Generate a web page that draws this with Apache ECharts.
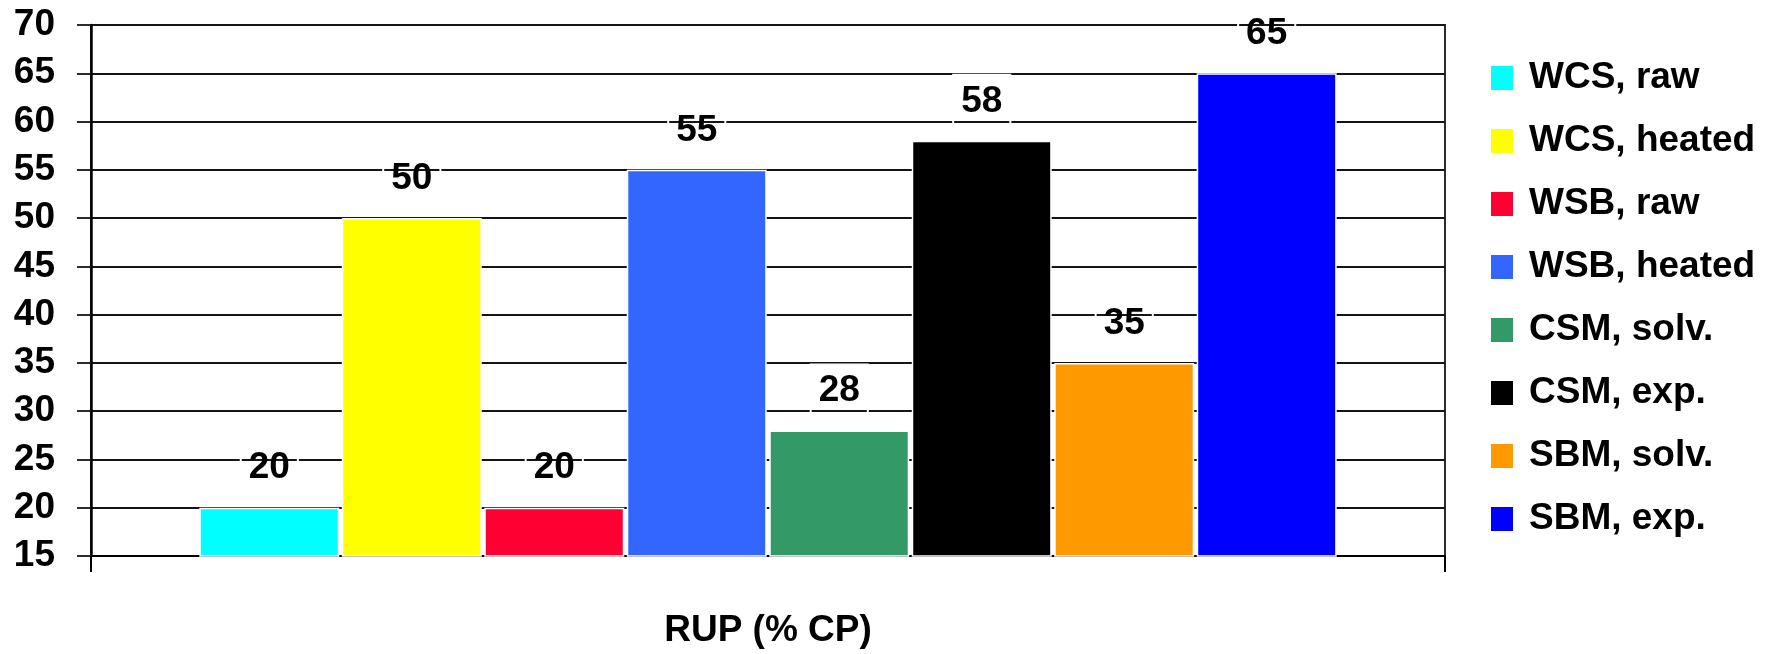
<!DOCTYPE html>
<html>
<head>
<meta charset="utf-8">
<script src="https://cdn.jsdelivr.net/npm/echarts@6/dist/echarts.min.js"></script>
<style>
  html, body { margin: 0; padding: 0; background: #ffffff; }
  #chart { width: 1769px; height: 654px; }
</style>
</head>
<body>
<div id="chart"></div>
<script>
// Rumen-undegradable protein of each feed, % of crude protein
const categories = ['RUP (% CP)'];
const seriesNames = ['WCS, raw', 'WCS, heated', 'WSB, raw', 'WSB, heated',
                     'CSM, solv.', 'CSM, exp.', 'SBM, solv.', 'SBM, exp.'];
const seriesValues = [20, 50, 20, 55, 28, 58, 35, 65];
const seriesColors = ['#00FFFF', '#FFFF00', '#FF0033', '#3366FF',
                      '#339966', '#000000', '#FF9900', '#0000FF'];
const yTicks = [15, 20, 25, 30, 35, 40, 45, 50, 55, 60, 65, 70];

const FONT = '"Liberation Sans", Arial, Helvetica, sans-serif';
const FONT_SIZE = 37;
const LINE_COLOR = '#151515';

const chart = echarts.init(document.getElementById('chart'), null, { renderer: 'canvas' });

const series = seriesNames.map((name, i) => ({
  name: name,
  type: 'bar',
  data: [seriesValues[i]],
  barCategoryGap: '16%',
  barGap: '1.8%',
  itemStyle: { color: seriesColors[i], borderColor: '#ffffff', borderWidth: 1.5 },
  label: {
    show: true,
    position: 'top',
    distance: 15,
    color: '#000000',
    fontFamily: FONT,
    fontWeight: 'bold',
    fontSize: FONT_SIZE,
    borderColor: '#ffffff',
    borderWidth: 2,
    padding: [8, 8, 6, 8]
  }
}));

chart.setOption({
  animation: false,
  backgroundColor: '#ffffff',
  grid: {
    left: 91, right: 324, top: 25, bottom: 98,
    show: true, borderColor: LINE_COLOR, borderWidth: 1.8
  },
  legend: {
    orient: 'vertical',
    left: 1489,
    top: 56,
    padding: 0,
    itemWidth: 24,
    itemHeight: 26,
    itemGap: 19,
    icon: 'rect',
    data: seriesNames,
    textStyle: {
      fontFamily: FONT,
      fontWeight: 'bold',
      fontSize: FONT_SIZE,
      lineHeight: 44,
      color: '#000000',
      padding: [0, 0, 0, 10]
    }
  },
  xAxis: {
    type: 'category',
    data: categories,
    name: categories[0],
    nameLocation: 'middle',
    nameGap: 56,
    nameTextStyle: { fontFamily: FONT, fontWeight: 'bold', fontSize: FONT_SIZE, color: '#000000' },
    axisLine: { show: true, lineStyle: { color: '#000000', width: 2 } },
    axisTick: { show: true, length: 16, lineStyle: { color: '#000000', width: 2 } },
    axisLabel: { show: false }
  },
  yAxis: {
    type: 'value',
    min: yTicks[0],
    max: yTicks[yTicks.length - 1],
    interval: 5,
    axisLine: { show: true, lineStyle: { color: '#000000', width: 2.5 } },
    axisTick: { show: true, length: 14, lineStyle: { color: LINE_COLOR, width: 1.8 } },
    axisLabel: {
      margin: 36,
      fontFamily: FONT,
      fontWeight: 'bold',
      fontSize: FONT_SIZE,
      color: '#000000'
    },
    splitLine: { show: true, lineStyle: { color: LINE_COLOR, width: 1.8 } }
  },
  series: series
});
</script>
</body>
</html>
